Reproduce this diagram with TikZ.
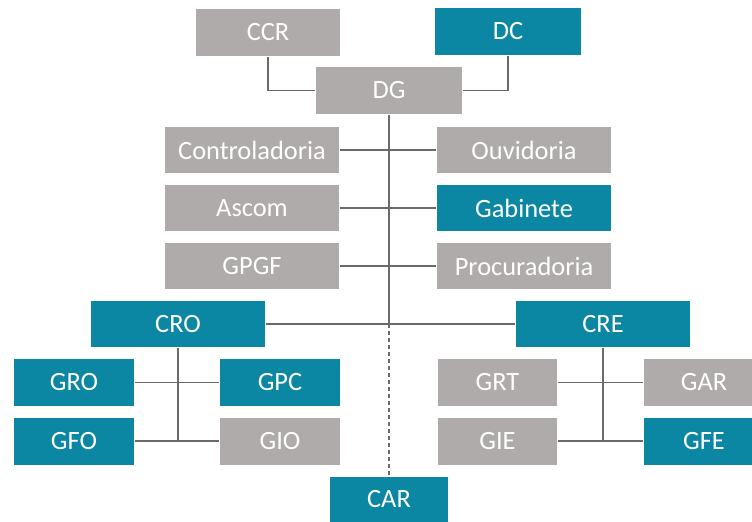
\documentclass[tikz,border=0pt]{standalone}
\usepackage{fontspec}
\setmainfont{Carlito}
\usepackage{tikz}
\usetikzlibrary{calc}
\usepackage{xcolor}
\definecolor{orggray}{HTML}{AFABAA}
\definecolor{orgteal}{HTML}{0B87A4}
\definecolor{orgline}{HTML}{6A6A6A}
\tikzstyle{org}=[
  font=\fontsize{26.5}{30}\selectfont, line width=1.4bp
]
\tikzstyle{unit}=[
  inner sep=0pt, text=white, minimum height=46bp, minimum width=174bp
]
\tikzstyle{grayunit}=[
  unit, fill=orggray
]
\tikzstyle{tealunit}=[
  unit, fill=orgteal
]
\tikzstyle{link}=[
  draw=orgline
]

\begin{document}
\begin{tikzpicture}[org]
    \clip (0bp,0bp) rectangle (752bp,-522bp);
    % top level
    \node (ccr) at (268bp,-32.5bp) [grayunit, minimum width=144bp, minimum height=47bp] {CCR};
    \node (dc) at (508bp,-31.5bp) [tealunit, minimum width=146bp, minimum height=47bp] {DC};
    \node (dg) at (389bp,-90.5bp) [grayunit, minimum width=146bp, minimum height=47bp] {DG};
    % staff units
    \node (contr) at (252bp,-150bp) [grayunit] {Controladoria};
    \node (ouvid) at (524bp,-150bp) [grayunit] {Ouvidoria};
    \node (ascom) at (252bp,-208bp) [grayunit] {Ascom};
    \node (gabin) at (524bp,-208bp) [tealunit] {Gabinete};
    \node (gpgf) at (252bp,-266bp) [grayunit] {GPGF};
    \node (procu) at (524bp,-266bp) [grayunit] {Procuradoria};
    % regional units
    \node (cro) at (178bp,-324bp) [tealunit] {CRO};
    \node (cre) at (603bp,-324bp) [tealunit] {CRE};
    \node (gro) at (74bp,-382.5bp) [tealunit, minimum width=120bp, minimum height=47bp] {GRO};
    \node (gpc) at (280bp,-382.5bp) [tealunit, minimum width=120bp, minimum height=47bp] {GPC};
    \node (gfo) at (74bp,-441bp) [tealunit, minimum width=120bp, minimum height=47bp] {GFO};
    \node (gio) at (280bp,-441bp) [grayunit, minimum width=120bp, minimum height=47bp] {GIO};
    \node (grt) at (497.5bp,-382.5bp) [grayunit, minimum width=119bp, minimum height=47bp] {GRT};
    \node (gar) at (704bp,-382.5bp) [grayunit, minimum width=120bp, minimum height=47bp] {GAR};
    \node (gie) at (497.5bp,-441bp) [grayunit, minimum width=119bp, minimum height=47bp] {GIE};
    \node (gfe) at (704bp,-441bp) [tealunit, minimum width=120bp, minimum height=47bp] {GFE};
    \node (car) at (389bp,-499.5bp) [tealunit, minimum width=118bp, minimum height=45bp] {CAR};
    \coordinate (hub) at (dg.south |- cro.east);

    \draw [link] (ccr.south) |- (dg.west);
    \draw [link] (dc.south) |- (dg.east);
    \draw [link, line width=1.8bp] (dg.south) -- (hub);
    \draw [link, dash pattern=on 4bp off 3bp] (hub) -- (car.north);
    \draw [link] (contr.east) -- (ouvid.west);
    \draw [link] (ascom.east) -- (gabin.west);
    \draw [link] (gpgf.east) -- (procu.west);
    \draw [link] (cro.east) -- (cre.west);
    \draw [link] (cro.south) -- (cro.south |- gfo.east);
    \draw [link] (gro.east) -- (gpc.west);
    \draw [link] (gfo.east) -- (gio.west);
    \draw [link] (cre.south) -- (cre.south |- gie.east);
    \draw [link] (grt.east) -- (gar.west);
    \draw [link] (gie.east) -- (gfe.west);
\end{tikzpicture}
\end{document}
